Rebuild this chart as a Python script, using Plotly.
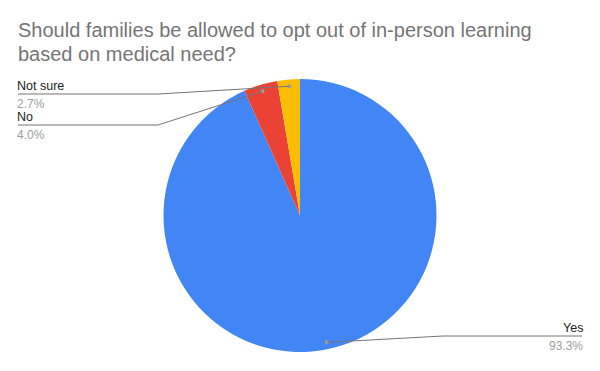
import math
import plotly.graph_objects as go

# ---- data ----
categories = ["Yes", "No", "Not sure"]
values = [70, 3, 2]
colors = ["#4285F4", "#EA4335", "#FBBC04"]
title_line1 = "Should families be allowed to opt out of in-person learning"
title_line2 = "based on medical need?"

# page body has an 8px margin, so the figure is drawn 8px smaller and offset
OFF = 8
W, H = 600 - OFF, 371 - OFF
CX, CY, R = 300.0, 215.5, 136.5  # pie centre / radius (reference pixels)

# label layout in reference pixels: (side, elbow_x, line_y, end_x)
label_layout = {
    "Yes": ("right", 443, 336, 582),
    "No": ("left", 158, 125, 18),
    "Not sure": ("left", 158, 94, 18),
}

FONT = "Arial, 'Liberation Sans', sans-serif"

def px(x):
    return (x - OFF) / W

def py(y):
    return 1 - (y - OFF) / H

fig = go.Figure(go.Pie(
    labels=categories,
    values=values,
    marker=dict(colors=colors, line=dict(width=0)),
    sort=False,
    direction="clockwise",
    rotation=0,
    textinfo="none",
    hoverinfo="label+percent",
    showlegend=False,
    domain=dict(x=[px(CX - R), px(CX + R)], y=[py(CY + R), py(CY - R)]),
))

total = sum(values)
shapes = []
annotations = []
cum = 0.0
for cat, v in zip(categories, values):
    frac = v / total
    mid = (cum + frac / 2) * 2 * math.pi
    cum += frac
    dx = CX + 0.95 * R * math.sin(mid)
    dy = CY - 0.95 * R * math.cos(mid)
    side, ex, ly, endx = label_layout[cat]
    shapes.append(dict(type="circle", xref="paper", yref="paper",
                       x0=px(dx - 2), x1=px(dx + 2), y0=py(dy + 2), y1=py(dy - 2),
                       fillcolor="#9e9e9e", line=dict(width=0)))
    shapes.append(dict(type="path", xref="paper", yref="paper",
                       path=f"M {px(dx)} {py(dy)} L {px(ex)} {py(ly)} L {px(endx)} {py(ly)}",
                       line=dict(color="#757575", width=1)))
    anchor = "left" if side == "left" else "right"
    shift = -2 if side == "left" else 2
    annotations.append(dict(x=px(endx), y=py(ly - 0.5), xref="paper", yref="paper",
                            text=cat, showarrow=False, xanchor=anchor, yanchor="bottom",
                            xshift=shift, borderpad=0,
                            font=dict(family=FONT, size=12.5, color="#222222")))
    annotations.append(dict(x=px(endx), y=py(ly + 1.5), xref="paper", yref="paper",
                            text=f"{frac * 100:.1f}%", showarrow=False, xanchor=anchor, yanchor="top",
                            xshift=shift, borderpad=0,
                            font=dict(family=FONT, size=12, color="#9e9e9e")))

for txt, cy in ((title_line1, 30), (title_line2, 54)):
    annotations.append(dict(x=px(17), y=py(cy), xref="paper", yref="paper",
                            text=txt, showarrow=False, xanchor="left", yanchor="middle",
                            borderpad=0,
                            font=dict(family=FONT, size=20, color="#757575")))

fig.update_layout(
    width=W, height=H,
    margin=dict(l=0, r=0, t=0, b=0),
    paper_bgcolor="white", plot_bgcolor="white",
    shapes=shapes, annotations=annotations,
)

fig.write_html("out.html")
